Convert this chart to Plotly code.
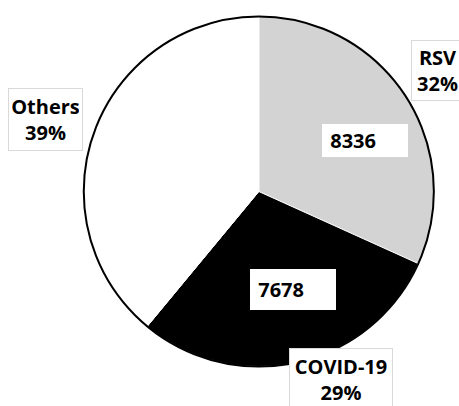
import plotly.graph_objects as go

# Share of positive samples by pathogen
labels = ["RSV", "COVID-19", "Others"]
values = [8336, 7678, 10236]
colors = ["#d3d3d3", "#000000", "#ffffff"]

W, H = 459, 406
total = sum(values)
pcts = [round(100 * v / total) for v in values]

pie_domain = dict(x=[0.1826, 0.9451], y=[0.0973, 0.9593])

fig = go.Figure()

# Slices, clockwise from 12 o'clock
fig.add_trace(go.Pie(
    labels=labels,
    values=values,
    sort=False,
    direction="clockwise",
    rotation=0,
    marker=dict(colors=colors, line=dict(color="#ffffff", width=1)),
    textinfo="none",
    hoverinfo="label+value+percent",
    showlegend=False,
    domain=pie_domain,
))

# Black rim around the whole pie
fig.add_trace(go.Pie(
    labels=["all"],
    values=[total],
    marker=dict(colors=["rgba(0,0,0,0)"], line=dict(color="#000000", width=2)),
    textinfo="none",
    hoverinfo="skip",
    showlegend=False,
    domain=pie_domain,
))

font = dict(family="Open Sans", size=20, color="#000000", weight="bold")


def px(x):
    return x / W


def py(y):
    return 1 - y / H


# Category name + percentage boxes (left edge, top edge, inner width, inner height)
name_boxes = {
    "RSV": (411, 40, 45, 53),
    "COVID-19": (289, 348, 96, 55),
    "Others": (8, 88, 67, 55),
}
for lab, pct in zip(labels, pcts):
    x0, y0, w, h = name_boxes[lab]
    fig.add_annotation(
        x=px(x0), y=py(y0), xref="paper", yref="paper",
        xanchor="left", yanchor="top",
        text=f"{lab}<br>{pct}%",
        showarrow=False, align="center",
        width=w, height=h,
        bgcolor="#ffffff", bordercolor="#d9d9d9", borderwidth=1, borderpad=3,
        font=font,
    )

# Count boxes inside the RSV and COVID-19 slices
count_boxes = {
    "RSV": (322, 124, 80, 27),
    "COVID-19": (250, 269, 80, 35),
}
for lab, val in zip(labels, values):
    if lab not in count_boxes:
        continue
    x0, y0, w, h = count_boxes[lab]
    fig.add_annotation(
        x=px(x0), y=py(y0), xref="paper", yref="paper",
        xanchor="left", yanchor="top",
        text="\u00a0" + str(val),
        showarrow=False, align="left", valign="middle",
        width=w, height=h,
        bgcolor="#ffffff", borderwidth=0, borderpad=3,
        font=font,
    )

fig.update_layout(
    width=W, height=H,
    margin=dict(l=0, r=0, t=0, b=0),
    paper_bgcolor="#ffffff",
    plot_bgcolor="#ffffff",
)

fig.write_html("out.html")
